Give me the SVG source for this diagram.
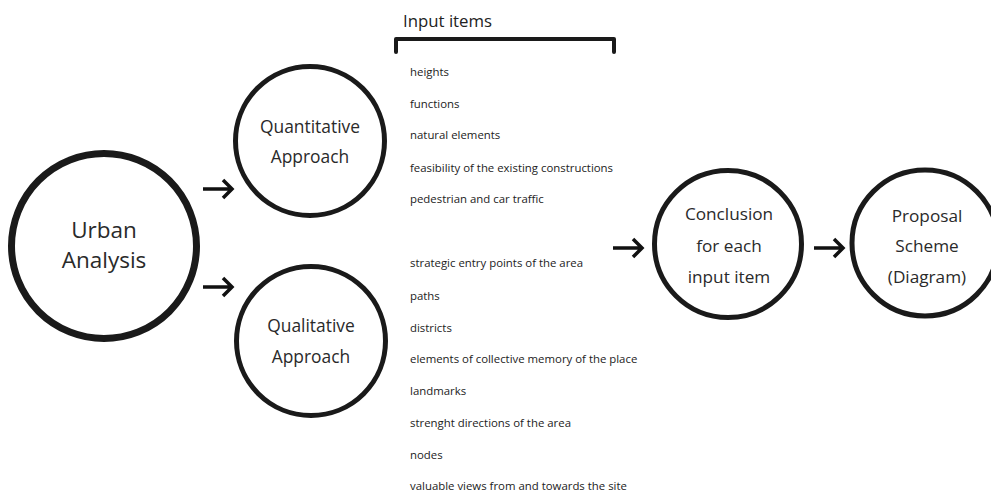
<svg xmlns="http://www.w3.org/2000/svg" width="991" height="493" viewBox="0 0 991 493">
<style>
.node{fill:#fff;stroke:#1a1a1a;}
.big{font-family:"Open Sans","Liberation Sans",sans-serif;fill:#2a2a2a;text-anchor:middle;}
.item{font-family:"Open Sans","Liberation Sans",sans-serif;font-size:11.4px;fill:#222;}
.arr{fill:none;stroke:#111;stroke-width:3.5;stroke-linecap:butt;stroke-linejoin:miter;}
</style>
<defs>
<g id="arrow"><path class="arr" d="M0 0 H29 M20 -9 L29 0 L20 9"/></g>
</defs>
<rect width="991" height="493" fill="#fff"/>
<g id="urban-analysis">
<circle class="node" cx="104" cy="246" r="92.5" stroke-width="7"/>
<text class="big" font-size="22.5" x="104" y="238">Urban</text>
<text class="big" font-size="22.5" x="104" y="268">Analysis</text>
</g>
<g id="quantitative">
<circle class="node" cx="310" cy="141" r="74.5" stroke-width="5"/>
<text class="big" font-size="17.4" x="310" y="133">Quantitative</text>
<text class="big" font-size="17.4" x="310" y="163">Approach</text>
</g>
<g id="qualitative">
<circle class="node" cx="311" cy="341" r="74.5" stroke-width="5"/>
<text class="big" font-size="17.4" x="311" y="332">Qualitative</text>
<text class="big" font-size="17.4" x="311" y="363">Approach</text>
</g>
<g id="input-items">
<text font-family="Open Sans, Liberation Sans, sans-serif" font-size="16.8" fill="#222" x="403" y="27">Input items</text>
<path d="M396 52 V39 H614 V52" fill="none" stroke="#1a1a1a" stroke-width="4" stroke-linejoin="round" stroke-linecap="round"/>
<text class="item" x="410" y="76">heights</text>
<text class="item" x="410" y="108">functions</text>
<text class="item" x="410" y="139">natural elements</text>
<text class="item" x="410" y="172">feasibility of the existing constructions</text>
<text class="item" x="410" y="203">pedestrian and car traffic</text>
<text class="item" x="410" y="267">strategic entry points of the area</text>
<text class="item" x="410" y="300">paths</text>
<text class="item" x="410" y="332">districts</text>
<text class="item" x="410" y="363">elements of collective memory of the place</text>
<text class="item" x="410" y="395">landmarks</text>
<text class="item" x="410" y="427">strenght directions of the area</text>
<text class="item" x="410" y="459">nodes</text>
<text class="item" x="410" y="490">valuable views from and towards the site</text>
</g>
<g id="conclusion">
<circle class="node" cx="728" cy="244" r="73.5" stroke-width="5"/>
<text class="big" font-size="17.2" x="729" y="220">Conclusion</text>
<text class="big" font-size="17.2" x="729" y="252">for each</text>
<text class="big" font-size="17.2" x="729" y="283">input item</text>
</g>
<g id="proposal">
<circle class="node" cx="925" cy="243" r="73" stroke-width="5"/>
<text class="big" font-size="17.2" x="927" y="222">Proposal</text>
<text class="big" font-size="17.2" x="927" y="252">Scheme</text>
<text class="big" font-size="17.2" x="927" y="283">(Diagram)</text>
</g>
<g id="connectors">
<use href="#arrow" x="203" y="189"/>
<use href="#arrow" x="203" y="287"/>
<use href="#arrow" x="613" y="248"/>
<use href="#arrow" x="814" y="248"/>
</g>
</svg>
